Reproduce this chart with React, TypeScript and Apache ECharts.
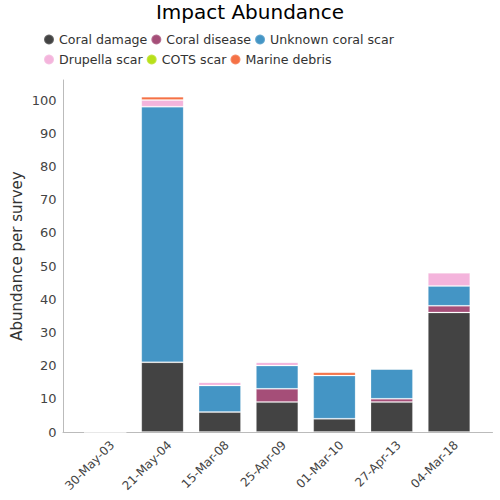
import React, { useEffect, useRef } from "react";
import * as echarts from "echarts";

const categories = ["30-May-03", "21-May-04", "15-Mar-08", "25-Apr-09", "01-Mar-10", "27-Apr-13", "04-Mar-18"];
const coralDamage = [0, 21, 6, 9, 4, 9, 36];
const coralDisease = [0, 0, 0, 4, 0, 1, 2];
const unknownScar = [0, 77, 8, 7, 13, 9, 6];
const drupellaScar = [0, 2, 1, 1, 0, 0, 4];
const cotsScar = [0, 0, 0, 0, 0, 0, 0];
const marineDebris = [0, 1, 0, 0, 1, 0, 0];

const seriesDefs = [
  { name: "Coral damage", data: coralDamage, color: "#434343" },
  { name: "Coral disease", data: coralDisease, color: "#a54e78" },
  { name: "Unknown coral scar", data: unknownScar, color: "#4495c5" },
  { name: "Drupella scar", data: drupellaScar, color: "#f4b4dc" },
  { name: "COTS scar", data: cotsScar, color: "#b8e01a" },
  { name: "Marine debris", data: marineDebris, color: "#f57145" },
];

const FONT = "DejaVu Sans";

const legendBase = {
  left: 38,
  icon: "circle",
  itemWidth: 10,
  itemHeight: 10,
  itemGap: 3,
  textStyle: { fontFamily: FONT, fontSize: 12.6, color: "#333" },
};

export default function App() {
  const ref = useRef<HTMLDivElement>(null);
  useEffect(() => {
    if (!ref.current) return;
    const chart = echarts.init(ref.current, undefined, { renderer: "svg" });
    chart.setOption({
      animation: false,
      textStyle: { fontFamily: FONT },
      title: {
        text: "Impact Abundance",
        left: "center",
        top: 2,
        padding: 0,
        textStyle: { fontFamily: FONT, fontSize: 20, fontWeight: "normal", color: "#000" },
      },
      legend: [
        { ...legendBase, top: 28, data: seriesDefs.slice(0, 3).map((s) => s.name) },
        { ...legendBase, top: 48, data: seriesDefs.slice(3).map((s) => s.name) },
      ],
      grid: [
        { left: 63, right: 7.5, top: 80, bottom: 68 },
        { left: 76.5, right: 22.3, top: 100, bottom: 68 },
      ],
      xAxis: [
        {
          type: "value",
          gridIndex: 0,
          min: 0,
          max: 1,
          axisLine: { show: true, lineStyle: { color: "#bbb" } },
          axisTick: { show: false },
          axisLabel: { show: false },
          splitLine: { show: false },
        },
        {
          type: "category",
          gridIndex: 1,
          data: categories,
          axisLine: { show: false },
          axisTick: { show: false },
          axisLabel: {
            rotate: 45,
            fontSize: 12,
            color: "#444",
            margin: 18,
            padding: [0, -10, 0, 0],
            fontFamily: FONT,
          },
        },
      ],
      yAxis: [
        {
          type: "value",
          gridIndex: 0,
          min: 0,
          max: 1,
          axisLine: { show: true, lineStyle: { color: "#bbb" } },
          axisTick: { show: false },
          axisLabel: { show: false },
          splitLine: { show: false },
          name: "Abundance per survey",
          nameLocation: "middle",
          nameGap: 39,
          nameTextStyle: { fontFamily: FONT, fontSize: 15, color: "#333" },
        },
        {
          type: "value",
          gridIndex: 1,
          min: 0,
          max: 100,
          interval: 10,
          axisLine: { show: false },
          axisTick: { show: false },
          splitLine: { show: false },
          axisLabel: { fontSize: 13, color: "#444", margin: 20, fontFamily: FONT },
        },
      ],
      series: seriesDefs.map((s) => ({
        type: "bar",
        name: s.name,
        stack: "total",
        xAxisIndex: 1,
        yAxisIndex: 1,
        data: s.data,
        barWidth: "74%",
        clip: false,
        itemStyle: { color: s.color, borderColor: "rgba(255,255,255,0.2)", borderWidth: 1 },
        emphasis: { disabled: true },
      })),
    });
    return () => chart.dispose();
  }, []);
  return <div ref={ref} style={{ position: "absolute", left: 0, top: 0, width: 500, height: 500 }} />;
}
